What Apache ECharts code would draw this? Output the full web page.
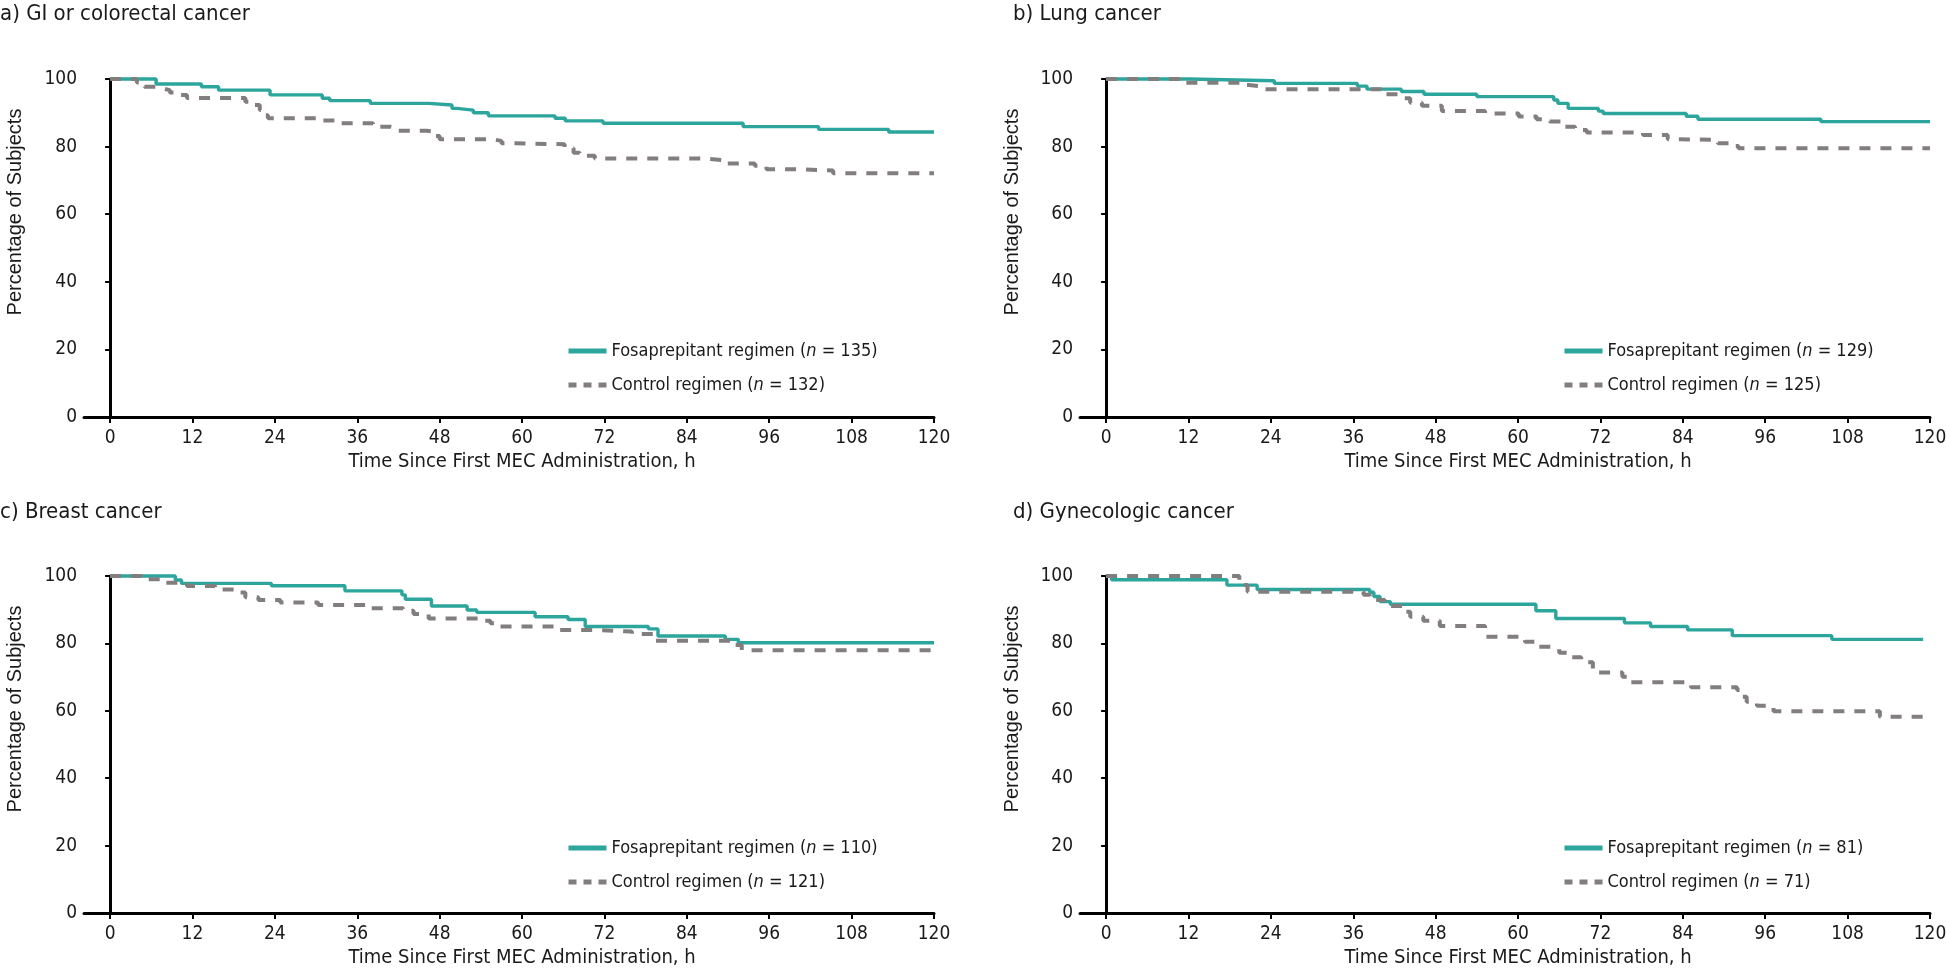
<!DOCTYPE html>
<html>
<head>
<meta charset="utf-8">
<script src="https://cdn.jsdelivr.net/npm/echarts@6/dist/echarts.min.js"></script>
<style>
html,body{margin:0;padding:0;background:#fff;}
#chart{width:1946px;height:972px;}
</style>
</head>
<body>
<div id="chart"></div>
<script>
// ---------- data ----------
const panelTitles = ['a) GI or colorectal cancer', 'b) Lung cancer', 'c) Breast cancer', 'd) Gynecologic cancer'];
const fosLabel = 'Fosaprepitant regimen';
const ctlLabel = 'Control regimen';
const fosN = [135, 129, 110, 81];
const ctlN = [132, 125, 121, 71];
const xTicks = [0, 12, 24, 36, 48, 60, 72, 84, 96, 108, 120];
const yTicks = [0, 20, 40, 60, 80, 100];
const xAxisTitle = 'Time Since First MEC Administration, h';
const yAxisTitle = 'Percentage of Subjects';

// [time (h), percentage of subjects]
const giFos = [[0,100],[6.7,98.5],[13.3,97.7],[15.8,96.7],[23.3,95.3],[30.9,94.3],[32,93.6],[37.9,92.8],[46.4,92.3],[49.8,91.3],[50.5,90.8],[52.9,90.0],[55.1,89.1],[64.8,88.4],[66.3,87.6],[71.8,86.9],[92.2,85.9],[103.2,85.1],[113.4,84.3],[120,84.3]];
const giCtl = [[0,100],[3.9,99.0],[5,97.7],[7,97.2],[7.7,96.7],[8.7,96.0],[10.2,95.3],[11.2,94.4],[19.7,93.3],[20.9,92.3],[21.8,90.8],[22.5,89.3],[23,88.4],[30.3,87.7],[33,86.9],[38.3,85.9],[40.8,85.4],[42,84.7],[46.1,84.5],[47,83.1],[48,82.2],[55.6,81.7],[57,81.0],[58.2,80.7],[66.2,79.5],[67.5,78.2],[68.4,77.3],[70.6,76.5],[86.4,76.0],[89.3,75.0],[93.9,74.3],[95.6,73.3],[100.7,72.9],[105.3,72.1],[120,72.1]];
const lungFos = [[0,100],[12,99.5],[24.5,98.7],[36.6,97.9],[38,97.0],[43,96.3],[46.3,95.5],[54,94.8],[65.2,93.8],[65.8,92.8],[67.3,91.3],[71.7,90.5],[72.4,89.8],[84.5,89.0],[86.2,88.1],[104.1,87.4],[120,87.4]];
const lungCtl = [[0,100],[10.7,98.9],[20,98.2],[20.8,97.7],[23,97.0],[40.1,95.5],[42.5,95.0],[43.1,94.3],[44.3,93.0],[46,92.1],[48.9,90.5],[55.2,89.8],[60.1,88.9],[62.7,88.1],[64.6,87.4],[66.8,85.9],[68.3,84.9],[70,84.2],[78.2,83.4],[81.8,82.2],[82.8,82.0],[89.1,81.0],[91.1,80.2],[92.1,79.5],[120,79.5]];
const breastFos = [[0,100],[9.5,98.8],[10.4,97.8],[23.5,97.1],[34.2,95.6],[42.5,94.4],[43,93.1],[46.8,91.1],[52,89.9],[53.4,89.2],[61.9,87.9],[66.7,87.1],[69.2,85.0],[78.4,84.3],[79.8,82.2],[89.6,81.2],[91.5,80.2],[120,80.2]];
const breastCtl = [[0,100],[4.6,99.0],[7.5,98.0],[11.2,97.0],[15.3,96.0],[18.7,95.1],[19.7,93.7],[21.6,92.9],[24.8,92.1],[30.3,91.4],[38.1,90.4],[42.7,89.7],[44.2,88.7],[46.4,87.4],[53.9,86.7],[55.4,86.0],[56.8,85.0],[65.3,84.0],[70.4,83.5],[76,82.8],[79.4,80.8],[90.8,79.5],[92,78.0],[120,78.0]];
const gynFos = [[0,100],[0.8,98.9],[17.6,97.3],[22,96.0],[38.4,95.2],[39,93.9],[39.9,92.4],[41.4,91.6],[62.6,89.7],[65.5,87.4],[75.5,86.1],[79.3,85.0],[84.7,84.0],[91.2,82.3],[105.7,81.2],[119,81.2]];
const gynCtl = [[0,100],[19.4,98.8],[20,97.3],[20.6,95.3],[37.5,94.4],[38.4,92.9],[40.6,91.1],[43.3,89.4],[44.3,87.9],[46.2,86.7],[48.6,85.2],[55.2,82.0],[61,80.5],[62.6,79.0],[65.3,78.5],[66,77.2],[67.5,75.9],[69.2,74.4],[70.9,71.4],[75.2,70.1],[76.2,68.5],[85.2,67.0],[91.9,66.2],[92.6,64.2],[93.3,62.7],[94.8,61.5],[97.2,59.9],[112.7,58.2],[120,58.2]];

const fosData = [giFos, lungFos, breastFos, gynFos];
const ctlData = [giCtl, lungCtl, breastCtl, gynCtl];

// ---------- styling / layout ----------
const NARROW = "'Liberation Sans Narrow', 'DejaVu Sans Condensed', 'Arial Narrow', sans-serif";
const REG = "'Liberation Sans', Arial, sans-serif";
const TEXT = '#1a1a1a';
const TEAL = '#2ca59d';
const GREY = '#827e7e';
const panels = [
  {left: 84, top: 79, height: 338, titleX: 0, titleY: 15, yNameX: 15, yNameY: 212},
  {left: 1080, top: 79, height: 338, titleX: 1013, titleY: 15, yNameX: 1012, yNameY: 212},
  {left: 84, top: 576, height: 337, titleX: 0, titleY: 513, yNameX: 15, yNameY: 709},
  {left: 1080, top: 576, height: 337, titleX: 1013, titleY: 513, yNameX: 1012, yNameY: 709}
];
const gridWidth = 850;
const xMin = -3.8;

const grids = [], xAxes = [], yAxes = [], series = [], legends = [], graphics = [];

panels.forEach((p, i) => {
  grids.push({left: p.left, top: p.top, width: gridWidth, height: p.height, containLabel: false, outerBoundsMode: 'none'});
  xAxes.push({
    type: 'value', gridIndex: i, min: xMin, max: 120,
    axisLine: {show: true, onZero: false, lineStyle: {color: '#000', width: 3}},
    axisTick: {show: true, customValues: xTicks, length: 6, lineStyle: {color: '#000', width: 2}},
    axisLabel: {customValues: xTicks, color: TEXT, fontFamily: NARROW, fontSize: 19, margin: 12},
    splitLine: {show: false}
  });
  yAxes.push({
    type: 'value', gridIndex: i, min: 0, max: 100, interval: 20,
    axisLine: {show: true, lineStyle: {color: '#000', width: 3}},
    axisTick: {show: true, length: 5, lineStyle: {color: '#000', width: 2}},
    axisLabel: {color: TEXT, fontFamily: NARROW, fontSize: 19, margin: 7},
    splitLine: {show: false}
  });
  const fosName = fosLabel + ' (n = ' + fosN[i] + ')';
  const ctlName = ctlLabel + ' (n = ' + ctlN[i] + ')';
  series.push({
    name: fosName, type: 'line', step: 'end', xAxisIndex: i, yAxisIndex: i,
    data: fosData[i], symbol: 'none', clip: false, animation: false, z: 3,
    lineStyle: {color: TEAL, width: 3.4}, itemStyle: {color: TEAL}
  });
  series.push({
    name: ctlName, type: 'line', step: 'end', xAxisIndex: i, yAxisIndex: i,
    data: ctlData[i], symbol: 'none', clip: false, animation: false, z: 4,
    lineStyle: {color: GREY, width: 4, type: [11, 10]}, itemStyle: {color: GREY}
  });
  legends.push({
    orient: 'vertical', left: p.left + 482, top: p.top + 261, padding: 0,
    itemWidth: 38, itemHeight: 14, itemGap: 12, selectedMode: false,
    data: [
      {name: fosName, itemStyle: {opacity: 0}, lineStyle: {width: 5}},
      {name: ctlName, itemStyle: {opacity: 0}, lineStyle: {width: 5, type: [8, 7]}}
    ],
    formatter: function (name) {
      const parts = name.split(' (n = ');
      return '{t|' + parts[0] + ' (}{i|n}{t| = ' + parts[1] + '}';
    },
    textStyle: {
      color: TEXT, fontFamily: NARROW, fontSize: 18, lineHeight: 22,
      rich: {
        t: {color: TEXT, fontFamily: NARROW, fontSize: 18},
        i: {color: TEXT, fontFamily: NARROW, fontSize: 18, fontStyle: 'italic'}
      }
    }
  });
  // panel title
  graphics.push({type: 'text', left: p.titleX, top: p.titleY - 12,
    style: {text: panelTitles[i], font: '22px ' + NARROW, fill: TEXT}});
  // y-axis title
  graphics.push({type: 'text', x: p.yNameX, y: p.yNameY, rotation: Math.PI / 2,
    style: {text: yAxisTitle, font: '20px ' + REG, fill: TEXT, align: 'center', verticalAlign: 'middle'}});
  // x-axis title, centered on the 0-120 span
  const x0 = p.left + (0 - xMin) / (120 - xMin) * gridWidth;
  const xc = (x0 + p.left + gridWidth) / 2;
  graphics.push({type: 'text', x: xc, y: p.top + p.height + 45,
    style: {text: xAxisTitle, font: '20px ' + NARROW, fill: TEXT, align: 'center', verticalAlign: 'middle'}});
});

const chart = echarts.init(document.getElementById('chart'), null, {renderer: 'canvas'});
chart.setOption({
  backgroundColor: '#fff',
  animation: false,
  grid: grids,
  xAxis: xAxes,
  yAxis: yAxes,
  legend: legends,
  series: series,
  graphic: graphics
});
</script>
</body>
</html>
